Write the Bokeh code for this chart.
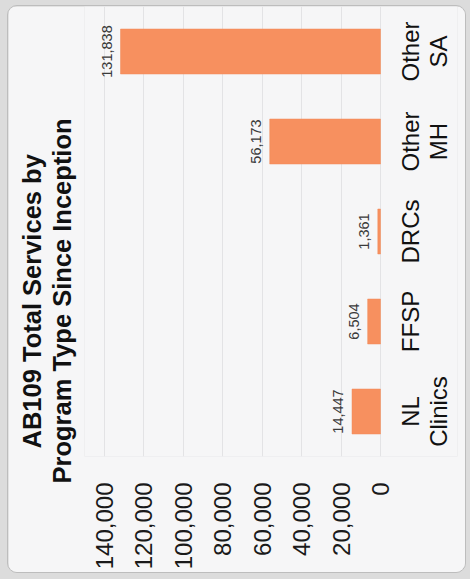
import math
from bokeh.plotting import figure
from bokeh.models import (Range1d, FixedTicker, NumeralTickFormatter,
                          Title, ColumnDataSource)
from bokeh.layouts import column
from bokeh.embed import file_html
from bokeh.resources import INLINE
from bokeh.core.properties import value

# ---- data ----
categories = ["NL Clinics", "FFSP", "DRCs", "Other MH", "Other SA"]
services = [14447, 6504, 1361, 56173, 131838]
service_labels = ["14,447", "6,504", "1,361", "56,173", "131,838"]
category_line1 = ["NL", "FFSP", "DRCs", "Other", "Other"]
category_line2 = ["Clinics", "", "", "MH", "SA"]
value_ticks = [0, 20000, 40000, 60000, 80000, 100000, 120000, 140000]
title_line1 = "AB109 Total Services by"
title_line2 = "Program Type Since Inception"

FONT = "Liberation Sans"
BG = "#f6f6f7"

positions = list(range(len(categories)))
zeros = [0] * len(categories)
source = ColumnDataSource(dict(pos=positions, cat=categories, val=services,
                               lab=service_labels, zero=zeros,
                               l1=category_line1, l2=category_line2))

# the frame also holds the category-label column to the right of zero
p = figure(width=459, height=568,
           y_range=Range1d(-0.5, len(categories) - 0.5),
           x_range=Range1d(150100, -39050),
           output_backend="svg", toolbar_location=None,
           min_border_left=76, min_border_right=10,
           min_border_top=0, min_border_bottom=118,
           margin=(5, 4, 6, 7),
           styles={"border": "1px solid #bdbdbd", "border-radius": "10px",
                   "overflow": "hidden"})

p.background_fill_color = BG
p.border_fill_color = BG
p.outline_line_color = None
p.yaxis.visible = False

p.hbar(y="pos", left=0, right="val", height=0.5, source=source,
       fill_color="#f7905f", line_color="#f08a58", line_width=0.5)

p.text(x="val", y="pos", text="lab", source=source, angle=math.pi / 2,
       text_align="center", text_baseline="bottom", x_offset=-9,
       text_font=value(FONT), text_font_size="14.5px", text_color="#3a3a3a")

# value axis (below)
xa = p.xaxis[0]
xa.ticker = FixedTicker(ticks=value_ticks)
xa.formatter = NumeralTickFormatter(format="0,0")
xa.major_label_orientation = math.pi / 2
xa.major_label_text_font = FONT
xa.major_label_text_font_size = "24px"
xa.major_label_text_color = "#1a1a1a"
xa.major_label_standoff = 20
xa.axis_line_color = None
xa.major_tick_line_color = None
xa.minor_tick_line_color = None

# category labels, two text lines each, right of the zero line
for col, off in (("l1", 30), ("l2", 58)):
    p.text(x="zero", y="pos", text=col, source=source,
           angle=math.pi / 2, x_offset=off,
           text_align="center", text_baseline="alphabetic",
           text_font=value(FONT), text_font_size="24px",
           text_color="#111111")

p.xgrid.ticker = FixedTicker(ticks=value_ticks)
p.xgrid.grid_line_color = "#e3e3e5"
p.ygrid.grid_line_color = None

spacer = Title(text=" ", text_font_size="1px", standoff=6)
t2 = Title(text=title_line2, align="left", offset=-27, text_font=FONT,
           text_font_size="25.5px", text_font_style="bold", text_color="#111111",
           standoff=0)
t1 = Title(text=title_line1, align="left", offset=8, text_font=FONT,
           text_font_size="25.5px", text_font_style="bold", text_color="#111111",
           standoff=0)
p.add_layout(spacer, "left")
p.add_layout(t2, "left")
p.add_layout(t1, "left")

layout = column(p, width=470, height=579, styles={"background-color": "#dcdcdc"})

open("out.html", "w").write(file_html(layout, INLINE))
